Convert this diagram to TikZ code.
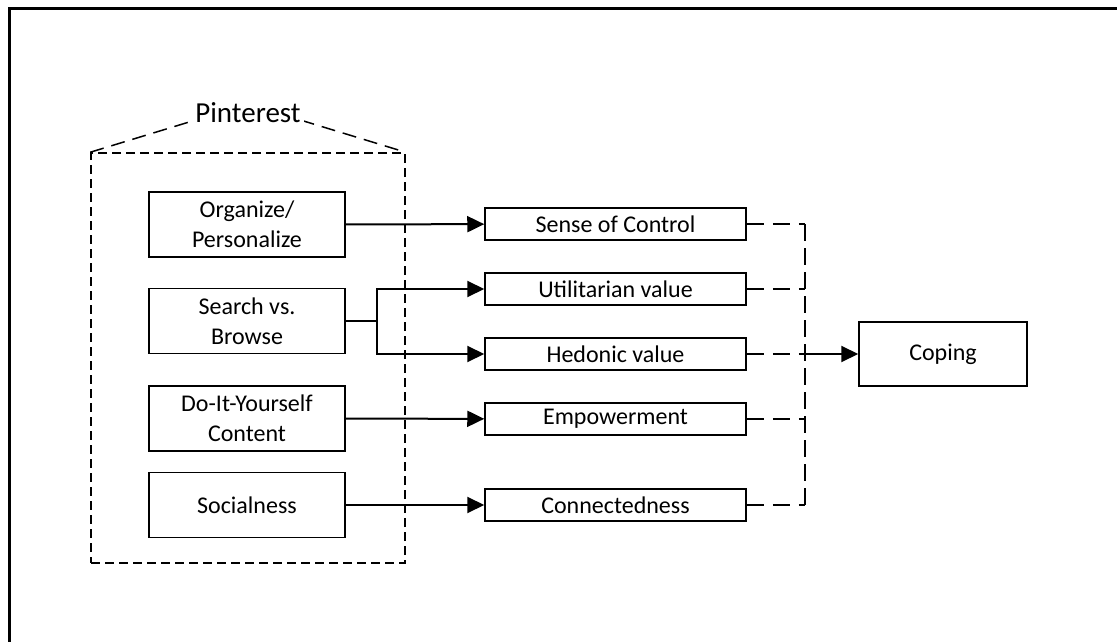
\documentclass[tikz,border=0pt]{standalone}
\usepackage{fontspec}
\setmainfont{Carlito}
\usetikzlibrary{arrows.meta,positioning,calc}

\begin{document}
\begin{tikzpicture}[
    x=1pt, y=-1pt,
    % 左侧方框样式
    feature style/.style={
        rectangle,             % 方形节点
        draw,                  % 绘制边框
        fill=white,            % 填充白色
        line width=1.5pt,      % 边框线宽
        minimum width=196pt,   % 最小宽度
        minimum height=65pt,   % 最小高度
        inner sep=0pt,         % 内部填充为0
        align=center,          % 文字居中
        font=\fontsize{24}{30}\selectfont
    },
    % 中间方框样式
    value style/.style={
        feature style,
        minimum width=261pt,
        minimum height=32pt
    },
    % 右侧结果方框
    result style/.style={
        feature style,
        minimum width=168pt,
        minimum height=64pt
    },
    % 实线箭头
    solid edge/.style={
        draw,
        line width=2pt,
        -{Triangle[length=17pt,width=16pt]}
    },
    % 虚线连接
    dashed edge/.style={
        draw,
        line width=2pt,
        dash pattern=on 17pt off 9pt
    },
    % 分组虚线框
    group style/.style={
        draw,
        line width=1.5pt,
        dash pattern=on 9pt off 5pt
    }
]
\useasboundingbox (0,0) rectangle (1117,642);

% 外框 (只有上边和左边)
\draw[line width=3pt] (9,642) -- (9,9) -- (1117,9);

% Pinterest 分组
\node[group style, minimum width=314pt, minimum height=410pt] (group) at (248,358) {};
\coordinate (apex) at (248,104);
\draw[line width=1.5pt, dash pattern=on 14pt off 8pt]
    (group.north west) -- (apex) -- (group.north east);
\node[fill=white, inner sep=3pt, font=\fontsize{29}{34}\selectfont] (pinterest) at (248,113) {Pinterest};

% 左侧节点
\node[feature style] (organize) at (247,224.5) {Organize/\\Personalize};
\node[feature style] (search) at (247,321) {Search vs.\\Browse};
\node[feature style] (diy) at (247,418.5) {Do-It-Yourself\\Content};
\node[feature style] (social) at (247,505) {Socialness};

% 中间节点
\node[value style] (control) at (615.5,224) {Sense of Control};
\node[value style] (util) at (615.5,289) {Utilitarian value};
\node[value style] (hedonic) at (615.5,354) {Hedonic value};
\node[value style] (empower) at (615.5,419) {Empowerment};
\node[value style] (connect) at (615.5,505) {Connectedness};

% 右侧节点
\node[result style] (coping) at (943,354) {Coping};

% 实线箭头
\coordinate (fork) at (377,321);
\draw[solid edge] (organize) -- (control);
\draw[line width=2pt] (search.east) -- (fork);
\draw[solid edge] (fork) |- (util.west);
\draw[solid edge] (fork) |- (hedonic.west);
\draw[solid edge] (diy) -- (empower);
\draw[solid edge] (social) -- (connect);

% 虚线汇总
\coordinate (bus) at (805,354);
\foreach \v in {control,util,hedonic,empower,connect}
    \draw[dashed edge] (\v.east) -- (\v.east -| bus);
\draw[dashed edge, dash pattern=on 17pt off 7pt] (control.east -| bus) -- (connect.east -| bus);
\draw[solid edge] (bus) -- (coping);

\end{tikzpicture}
\end{document}
